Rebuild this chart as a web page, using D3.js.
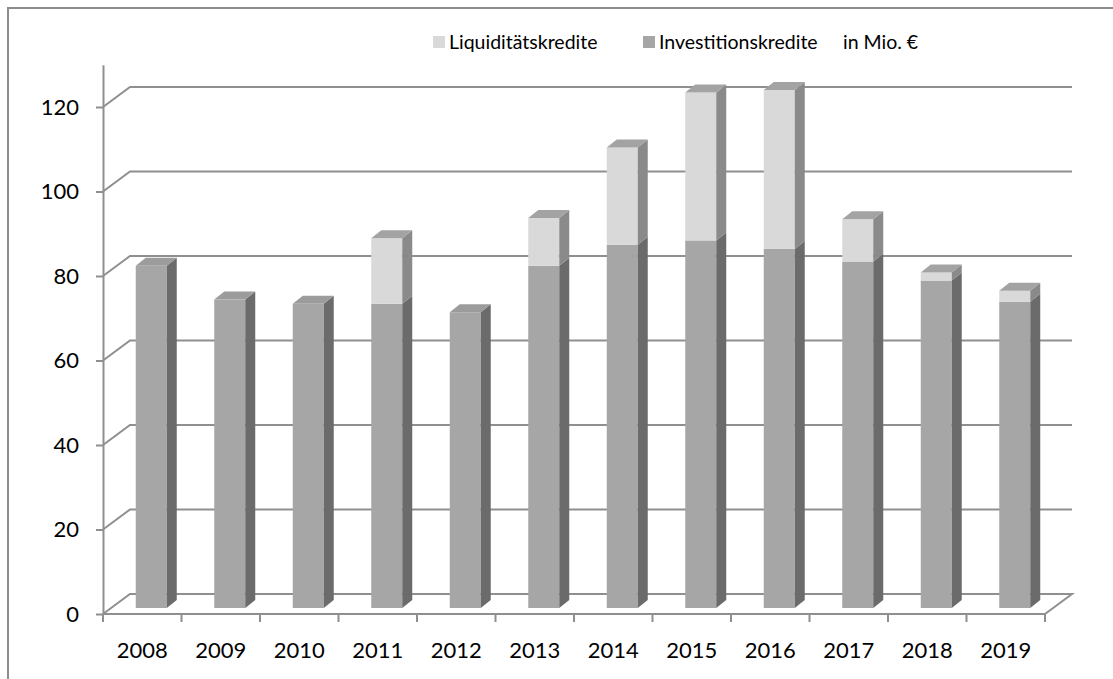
<!DOCTYPE html>
<html>
<head>
<meta charset="utf-8">
<script src="https://cdn.jsdelivr.net/npm/d3@7"></script>
<style>
  body { margin: 0; background: #fff; }
  text { font-family: Lato, "Open Sans", sans-serif; fill: #000; }
</style>
</head>
<body>
<div id="main"></div>
<script>
const width = 1113;
const height = 679;

const years = ["2008","2009","2010","2011","2012","2013","2014","2015","2016","2017","2018","2019"];
const investitionskredite = [81, 73, 72, 72, 70, 81, 86, 87, 85, 82, 77.5, 72.5];
const liquiditaetskredite = [0, 0, 0, 15.5, 0, 11.3, 23, 35, 37.6, 10, 1.9, 2.6];
const yTicks = [0, 20, 40, 60, 80, 100, 120];

// 3d offsets
const backDx = 27, backDy = -20;   // back wall
const frontDx = 9, frontDy = -6;   // bar front plane
const depthDx = 10, depthDy = -8;  // bar depth
const barW = 31;
const fontSize = "22px";
const legendFont = "19.5px";

const svg = d3.select("#main").append("svg")
  .attr("width", width)
  .attr("height", height);

// frame (only top and left edges show)
svg.append("rect")
  .attr("x", 8).attr("y", 8)
  .attr("width", 1200).attr("height", 800)
  .attr("fill", "none").attr("stroke", "#8c8c8c").attr("stroke-width", 2);

const x = d3.scaleBand().domain(years).range([103, 1045]).padding(0);
const y = d3.scaleLinear().domain([0, 130]).range([614, 614 - 130 * 4.225]);

const gridColor = "#8f8f8f";

// gridlines on back wall with diagonal to front axis
const grid = svg.append("g");
yTicks.forEach(t => {
  const yy = y(t);
  grid.append("path")
    .attr("d", `M103,${yy}L${103 + backDx},${yy + backDy}H${1045 + backDx}` + (t === 0 ? `L1045,${yy}` : ""))
    .attr("fill", "none").attr("stroke", gridColor).attr("stroke-width", 2);
});

// bars
const cols = {
  inv: { front: "#a6a6a6", side: "#6b6b6b", top: "#9c9c9c" },
  liq: { front: "#d9d9d9", side: "#8a8a8a", top: "#a3a3a3" }
};

const stacks = years.map((yr, i) => {
  const segs = [{ k: "inv", v0: 0, v1: investitionskredite[i] }];
  if (liquiditaetskredite[i] > 0)
    segs.push({ k: "liq", v0: investitionskredite[i], v1: investitionskredite[i] + liquiditaetskredite[i] });
  return { yr, segs };
});

const bar = svg.append("g").selectAll("g")
  .data(stacks)
  .join("g");

bar.each(function(d) {
  const g = d3.select(this);
  const x0 = x(d.yr) + x.bandwidth() / 2 - barW / 2 + frontDx;
  const x1 = x0 + barW;
  d.segs.forEach((s, j) => {
    const yb = y(s.v0) + frontDy;
    const yt = y(s.v1) + frontDy;
    const c = cols[s.k];
    g.append("rect")
      .attr("x", x0).attr("y", yt)
      .attr("width", barW).attr("height", yb - yt)
      .attr("fill", c.front);
    g.append("path")
      .attr("d", `M${x1},${yb}L${x1 + depthDx},${yb + depthDy}L${x1 + depthDx},${yt + depthDy}L${x1},${yt}Z`)
      .attr("fill", c.side);
    if (j === d.segs.length - 1) {
      g.append("path")
        .attr("d", `M${x0},${yt}L${x0 + depthDx},${yt + depthDy}L${x1 + depthDx},${yt + depthDy}L${x1},${yt}Z`)
        .attr("fill", c.top);
    }
  });
});

// y axis
const yAxis = svg.append("g")
  .attr("transform", "translate(103,0)")
  .call(d3.axisLeft(y).tickValues(yTicks).tickSize(7).tickSizeOuter(0).tickPadding(17));
yAxis.selectAll("path, line").attr("stroke", gridColor).attr("stroke-width", 2);
yAxis.selectAll("text").style("font-size", fontSize).style("font-family", "Lato, sans-serif").attr("fill", "#000");

// x axis
const xAxis = svg.append("g");
xAxis.append("line")
  .attr("x1", 103).attr("x2", 1045).attr("y1", y(0)).attr("y2", y(0))
  .attr("stroke", gridColor).attr("stroke-width", 2);
xAxis.selectAll("line.tick")
  .data(years.concat(["end"]))
  .join("line")
  .attr("class", "tick")
  .attr("x1", (d, i) => i < years.length ? x(d) : x.range()[1])
  .attr("x2", (d, i) => i < years.length ? x(d) : x.range()[1])
  .attr("y1", y(0)).attr("y2", y(0) + 8)
  .attr("stroke", gridColor).attr("stroke-width", 2);
xAxis.selectAll("text")
  .data(years)
  .join("text")
  .attr("x", d => x(d) + x.bandwidth() / 2)
  .attr("y", 658)
  .attr("text-anchor", "middle")
  .style("font-size", fontSize)
  .text(d => d);

// legend
const legend = svg.append("g");
const legendItems = [
  { name: "Liquiditätskredite", color: cols.liq.front, x: 433 },
  { name: "Investitionskredite", color: cols.inv.front, x: 643 }
];
legend.selectAll("rect")
  .data(legendItems)
  .join("rect")
  .attr("x", d => d.x).attr("y", 36)
  .attr("width", 12).attr("height", 12)
  .attr("fill", d => d.color);
legend.selectAll("text")
  .data(legendItems)
  .join("text")
  .attr("x", d => d.x + 16).attr("y", 49)
  .style("font-size", legendFont)
  .text(d => d.name);
legend.append("text")
  .attr("x", 843).attr("y", 49)
  .style("font-size", legendFont)
  .text("in Mio. €");
</script>
</body>
</html>
